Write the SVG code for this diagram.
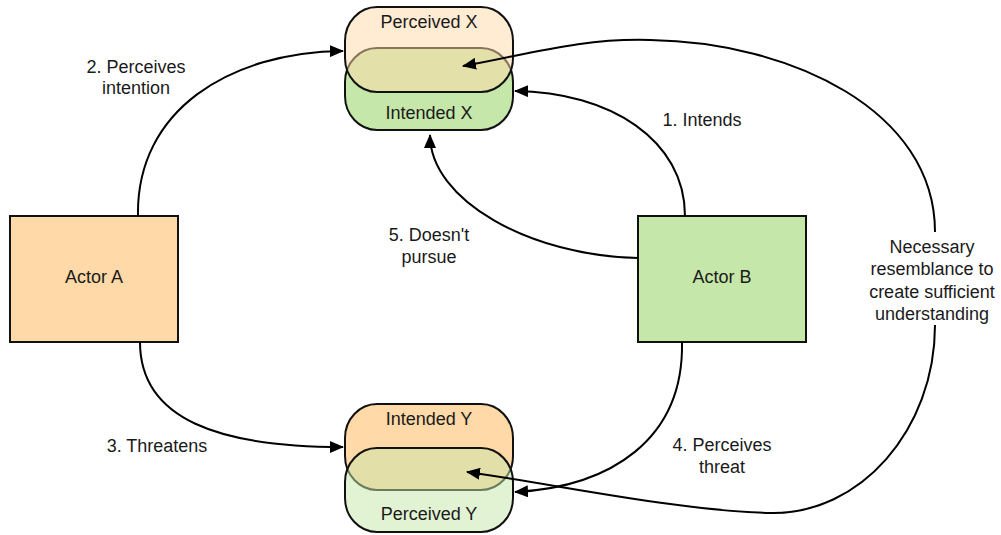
<svg xmlns="http://www.w3.org/2000/svg" width="1001" height="535" viewBox="0 0 1001 535">
  <defs>
    <marker id="arrow" viewBox="0 0 14 12" refX="13" refY="6" markerWidth="14" markerHeight="12" markerUnits="userSpaceOnUse" orient="auto">
      <path d="M0,0 L14,6 L0,12 Z" fill="#000"/>
    </marker>
  </defs>
  <style>
    text { font-family: "Liberation Sans", Arial, sans-serif; font-size: 18px; fill: #1a1a1a; text-anchor: middle; }
    .box { stroke: #111; stroke-width: 2; }
    .peach { fill: #ffd9a7; }
    .green { fill: #c6e7aa; }
    .half { fill-opacity: 0.5; }
    .edge { fill: none; stroke: #000; stroke-width: 2; marker-end: url(#arrow); }
  </style>
  <rect width="1001" height="535" fill="#fff"/>

  <g id="actor-a">
    <rect class="box peach" x="10" y="216" width="168" height="126"/>
    <text x="94" y="283">Actor A</text>
  </g>

  <g id="actor-b">
    <rect class="box green" x="638" y="216" width="168" height="126"/>
    <text x="722" y="283">Actor B</text>
  </g>

  <g id="intended-x">
    <rect class="box green" x="345" y="48" width="168" height="82" rx="32" ry="34"/>
    <text x="429" y="119">Intended X</text>
  </g>

  <g id="perceived-x">
    <rect class="box peach half" x="345" y="7" width="168" height="85" rx="32" ry="34"/>
    <text x="429" y="28">Perceived X</text>
  </g>

  <g id="intended-y">
    <rect class="box peach" x="345" y="404" width="168" height="86" rx="32" ry="34"/>
    <text x="429" y="425">Intended Y</text>
  </g>

  <g id="perceived-y">
    <rect class="box green half" x="345" y="448" width="168" height="84" rx="32" ry="34"/>
    <text x="429" y="520">Perceived Y</text>
  </g>

  <g id="connectors">
    <!-- 1. Intends -->
    <path class="edge" d="M685,216 C685,140 610,92 515,91"/>
    <!-- 2. Perceives intention -->
    <path class="edge" d="M138,216 C136,110 230,52 343,51"/>
    <!-- 3. Threatens -->
    <path class="edge" d="M140,342 C140,420 220,447 343,447"/>
    <!-- 4. Perceives threat -->
    <path class="edge" d="M682,342 C684,440 610,487 515,492"/>
    <!-- 5. Doesn't pursue -->
    <path class="edge" d="M638,258 C530,256 430,200 430,135"/>
    <!-- resemblance link, upper and lower halves around its label -->
    <path class="edge" d="M935,232 C935,110 790,42 650,40 C580,38 530,54 463,66"/>
    <path class="edge" d="M935,325 C935,430 860,515 770,513 C680,511 560,485 467,472"/>

    <text x="702" y="126">1. Intends</text>
    <text x="136" y="73">2. Perceives</text>
    <text x="136" y="94">intention</text>
    <text x="157" y="452">3. Threatens</text>
    <text x="722" y="451">4. Perceives</text>
    <text x="722" y="473">threat</text>
    <text x="429" y="241">5. Doesn't</text>
    <text x="429" y="263">pursue</text>
    <text x="932" y="253">Necessary</text>
    <text x="932" y="275">resemblance to</text>
    <text x="932" y="298">create sufficient</text>
    <text x="932" y="320">understanding</text>
  </g>
</svg>
